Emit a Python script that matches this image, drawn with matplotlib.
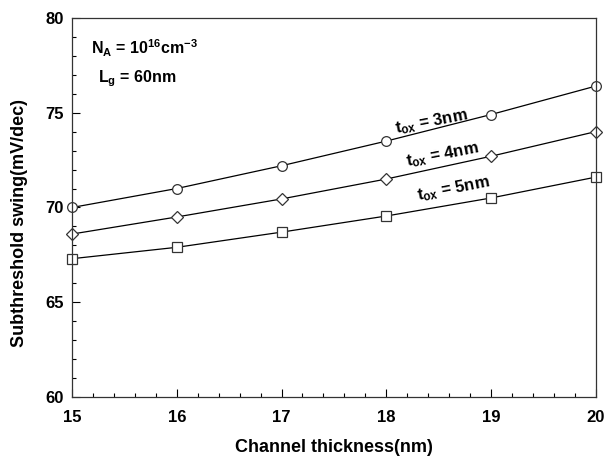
import matplotlib
matplotlib.use("Agg")
import matplotlib.pyplot as plt
from matplotlib.ticker import MultipleLocator

plt.rcParams['font.family'] = ['Liberation Sans', 'DejaVu Sans']
plt.rcParams['font.weight'] = 'bold'
plt.rcParams['axes.labelweight'] = 'bold'
plt.rcParams['mathtext.fontset'] = 'custom'
plt.rcParams['mathtext.rm'] = 'Liberation Sans:bold'
plt.rcParams['mathtext.default'] = 'rm'

# channel thickness (nm)
thickness = [15, 16, 17, 18, 19, 20]
# subthreshold swing (mV/dec) per oxide thickness
ss_tox3 = [70.0, 71.0, 72.2, 73.5, 74.9, 76.4]
ss_tox4 = [68.6, 69.5, 70.45, 71.5, 72.7, 74.0]
ss_tox5 = [67.3, 67.9, 68.7, 69.55, 70.5, 71.6]
labels = ['t$_{ox}$ = 3nm', 't$_{ox}$ = 4nm', 't$_{ox}$ = 5nm']

fig = plt.figure(figsize=(6.06, 4.57), dpi=100)
ax = fig.add_axes([0.119, 0.131, 0.864, 0.830])

series = [(ss_tox3, 'o'), (ss_tox4, 'D'), (ss_tox5, 's')]
for vals, m in series:
    ax.plot(thickness, vals, color='black', lw=0.9, marker=m,
            markersize=7 if m != 'D' else 6, markerfacecolor='white',
            markeredgecolor='#333333', markeredgewidth=0.9, clip_on=False)

# curve labels, tilted along the lines
ax.text(18.43, 74.5, labels[0], rotation=11, ha='center', va='center', fontsize=12)
ax.text(18.54, 72.8, labels[1], rotation=11, ha='center', va='center', fontsize=12)
ax.text(18.64, 71.0, labels[2], rotation=11, ha='center', va='center', fontsize=12)

ax.text(0.036, 0.905, 'N$_A$ = 10$^{16}$cm$^{-3}$', transform=ax.transAxes, fontsize=11.5)
ax.text(0.05, 0.83, 'L$_g$ = 60nm', transform=ax.transAxes, fontsize=11.5)

ax.set_xlim(15, 20)
ax.set_ylim(60, 80)
ax.xaxis.set_major_locator(MultipleLocator(1))
ax.xaxis.set_minor_locator(MultipleLocator(0.2))
ax.yaxis.set_major_locator(MultipleLocator(5))
ax.yaxis.set_minor_locator(MultipleLocator(1))
ax.tick_params(which='both', direction='in', top=False, right=False, labelsize=12)
ax.tick_params(which='major', length=6, width=0.8)
ax.tick_params(which='minor', length=3, width=0.8)
ax.tick_params(axis='x', pad=9)
ax.tick_params(axis='y', pad=6)
for sp in ax.spines.values():
    sp.set_linewidth(0.9)
    sp.set_color('#333333')

ax.set_xlabel('Channel thickness(nm)', fontsize=13, labelpad=10)
ax.set_ylabel('Subthreshold swing(mV/dec)', fontsize=13)
ax.yaxis.set_label_coords(-0.084, 0.46)

fig.savefig('out.png', dpi=100)
